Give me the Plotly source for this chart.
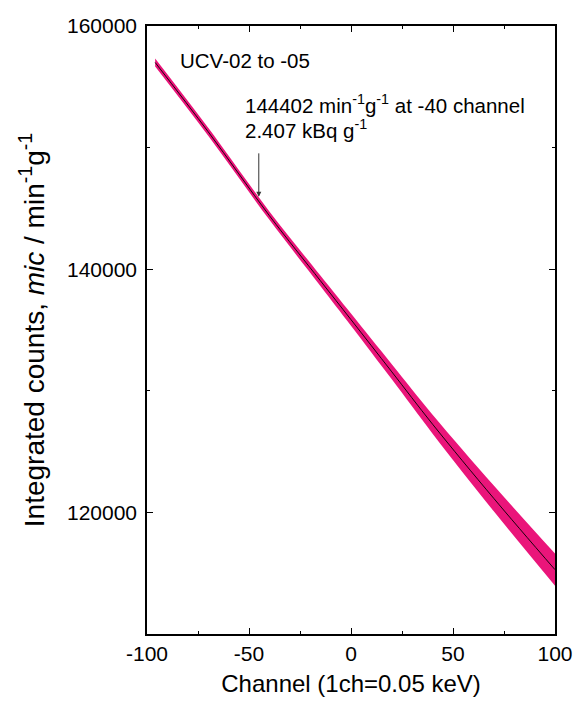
import plotly.graph_objects as go

# Data
channel = [-96, -70, -40, -15, 0, 20, 40, 70, 100]
counts = [157000, 151300, 144402, 139050, 135850, 131560, 127250, 121150, 115290]
band_half = [330, 330, 340, 430, 500, 620, 780, 1060, 1320]

x_ticks = [-100, -50, 0, 50, 100]
x_ticktext = ["-100", "-50", "0", "50", "100"]
y_ticks = [120000, 140000, 160000]
y_ticktext = ["120000", "140000", "160000"]

upper = [c + h for c, h in zip(counts, band_half)]
lower = [c - h for c, h in zip(counts, band_half)]

pink = "#EA157A"
font_family = "Liberation Sans, Arial, sans-serif"

fig = go.Figure()
fig.add_trace(go.Scatter(x=channel, y=lower, mode="lines", line=dict(width=0, color=pink, shape="spline"),
                         showlegend=False, hoverinfo="skip"))
fig.add_trace(go.Scatter(x=channel, y=upper, mode="lines", line=dict(width=0, color=pink, shape="spline"),
                         fill="tonexty", fillcolor=pink, showlegend=False, hoverinfo="skip"))
fig.add_trace(go.Scatter(x=channel, y=counts, mode="lines", line=dict(width=0.9, color="black", shape="spline"),
                         showlegend=False))

axis_common = dict(
    showgrid=False, zeroline=False, showline=True, linecolor="black", linewidth=1.5,
    mirror="allticks", ticks="inside", ticklen=6, tickwidth=1.2, tickcolor="black",
    tickfont=dict(family=font_family, size=21, color="black"), automargin=False,
)

fig.update_xaxes(
    range=[-100, 100], tickvals=x_ticks, ticktext=x_ticktext,
    minor=dict(dtick=25, tick0=0, ticks="inside", ticklen=3, tickwidth=1.2, tickcolor="black"),
    title=dict(text="Channel (1ch=0.05 keV)", font=dict(family=font_family, size=24, color="black"),
               standoff=11),
    **axis_common,
)
fig.update_yaxes(
    range=[110000, 160000], tickvals=y_ticks, ticktext=y_ticktext,
    minor=dict(dtick=10000, tick0=0, ticks="inside", ticklen=3, tickwidth=1.2, tickcolor="black"),
    title=dict(text="Integrated counts, <i>mic</i> / min<sup>-1</sup>g<sup>-1</sup>",
               font=dict(family=font_family, size=28, color="black"), standoff=14),
    ticklabelstandoff=4,
    **axis_common,
)

fig.add_annotation(x=-85, y=157200, xref="x", yref="y", text="UCV-02 to -05", showarrow=False,
                   xanchor="left", yanchor="middle", font=dict(family=font_family, size=20.5, color="black"))
fig.add_annotation(x=-53, y=153600, xref="x", yref="y",
                   text="144402 min<sup>-1</sup>g<sup>-1</sup> at -40 channel",
                   showarrow=False, xanchor="left", yanchor="middle", align="left",
                   font=dict(family=font_family, size=20.5, color="black"))
fig.add_annotation(x=-53, y=151500, xref="x", yref="y",
                   text="2.407 kBq g<sup>-1</sup>",
                   showarrow=False, xanchor="left", yanchor="middle", align="left",
                   font=dict(family=font_family, size=20.5, color="black"))
fig.add_annotation(x=-45.2, y=145950, xref="x", yref="y", text="", showarrow=True,
                   ax=0, ay=-45, arrowhead=2, arrowsize=1, arrowwidth=1, arrowcolor="#333333")

fig.update_layout(
    width=573, height=702,
    margin=dict(l=147, r=18, t=26, b=68),
    plot_bgcolor="white", paper_bgcolor="white",
    font=dict(family=font_family, color="black"),
)

fig.write_html("out.html")
